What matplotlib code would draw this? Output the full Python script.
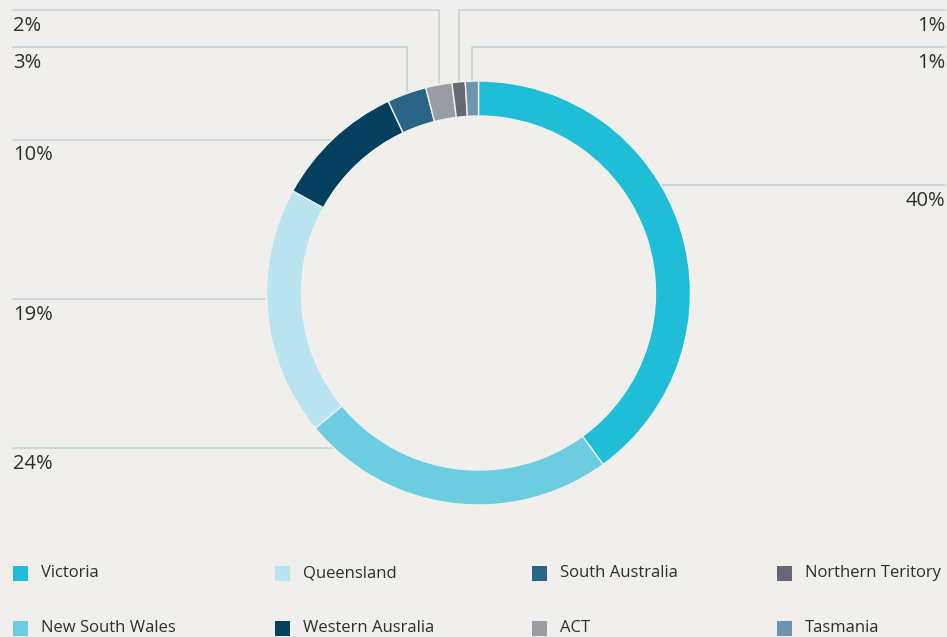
import numpy as np
import matplotlib
matplotlib.use("Agg")
import matplotlib.pyplot as plt
from matplotlib.patches import Rectangle

# Share of total by state/territory
states = ["Victoria", "New South Wales", "Queensland", "Western Ausralia",
          "South Australia", "ACT", "Northern Teritory", "Tasmania"]
shares = [40, 24, 19, 10, 3, 2, 1, 1]
colors = ["#1fbed6", "#6dcde0", "#bae4f0", "#053f5e",
          "#2a6587", "#9a9ca3", "#636872", "#6e95ad"]

W, H = 947, 637
bg = "#f0efeb"
line_col = "#c3d0db"
text_col = "#2e2e2e"
plt.rcParams["font.family"] = ["Open Sans", "DejaVu Sans"]

# donut geometry (pixels, y measured from the top)
cx, cy_top, r, ring = 478.5, 293, 212, 35
cy = H - cy_top

def ty(y):
    return H - y

# label placement: (side, y of leader line, elbow?)
label_pos = {
    "Victoria": ("right", 185, False),
    "New South Wales": ("left", 448, False),
    "Queensland": ("left", 299, False),
    "Western Ausralia": ("left", 139.5, False),
    "South Australia": ("left", 47, True),
    "ACT": ("left", 10, True),
    "Northern Teritory": ("right", 10, True),
    "Tasmania": ("right", 47, True),
}
x_left, x_right = 13, 945

fig = plt.figure(figsize=(W / 100, H / 100), dpi=100, facecolor=bg)
ax = fig.add_axes([0, 0, 1, 1], facecolor=bg)

wedges, _ = ax.pie(shares, colors=colors, center=(cx, cy), radius=r,
                   startangle=90, counterclock=False,
                   wedgeprops=dict(width=ring, edgecolor="#f2f2f0", linewidth=1))
for w in wedges:
    w.set_zorder(3)

ax.set_xlim(0, W)
ax.set_ylim(0, H)
ax.set_aspect("equal")
ax.axis("off")

# leader lines and percentage labels
cum = np.cumsum([0] + shares)
total = float(sum(shares))
for i, name in enumerate(states):
    side, ly, elbow = label_pos[name]
    if elbow:
        # vertical drop at the slice midpoint
        ang = np.deg2rad((cum[i] + cum[i + 1]) / 2 / total * 360)
        ex = cx + r * np.sin(ang)
        ey = cy + np.sqrt(r ** 2 - (ex - cx) ** 2)
        start = x_left if side == "left" else x_right
        ax.plot([start, ex, ex], [ty(ly), ty(ly), ey], color=line_col,
                lw=1.1, zorder=1, solid_joinstyle="miter")
    else:
        dy = cy - ty(ly)
        dx = np.sqrt(r ** 2 - dy ** 2)
        if side == "left":
            ax.plot([x_left, cx - dx], [ty(ly), ty(ly)], color=line_col, lw=1.1, zorder=1)
        else:
            ax.plot([cx + dx, x_right], [ty(ly), ty(ly)], color=line_col, lw=1.1, zorder=1)
    tx = x_left if side == "left" else x_right
    ax.text(tx, ty(ly + 16), f"{shares[i]}%", ha=side, va="center",
            fontsize=14.5, color=text_col)

# legend: two rows, four columns, filled column by column
col_x = [13, 275, 532, 777]
row_y = [573, 628]
sq = 15
for i, name in enumerate(states):
    x0 = col_x[i // 2]
    y0 = row_y[i % 2]
    ax.add_patch(Rectangle((x0, ty(y0) - sq / 2), sq, sq, color=colors[i], lw=0))
    ax.text(x0 + 28, ty(y0), name, ha="left", va="center",
            fontsize=12, color=text_col)

fig.savefig("out.png", dpi=100, facecolor=bg)
